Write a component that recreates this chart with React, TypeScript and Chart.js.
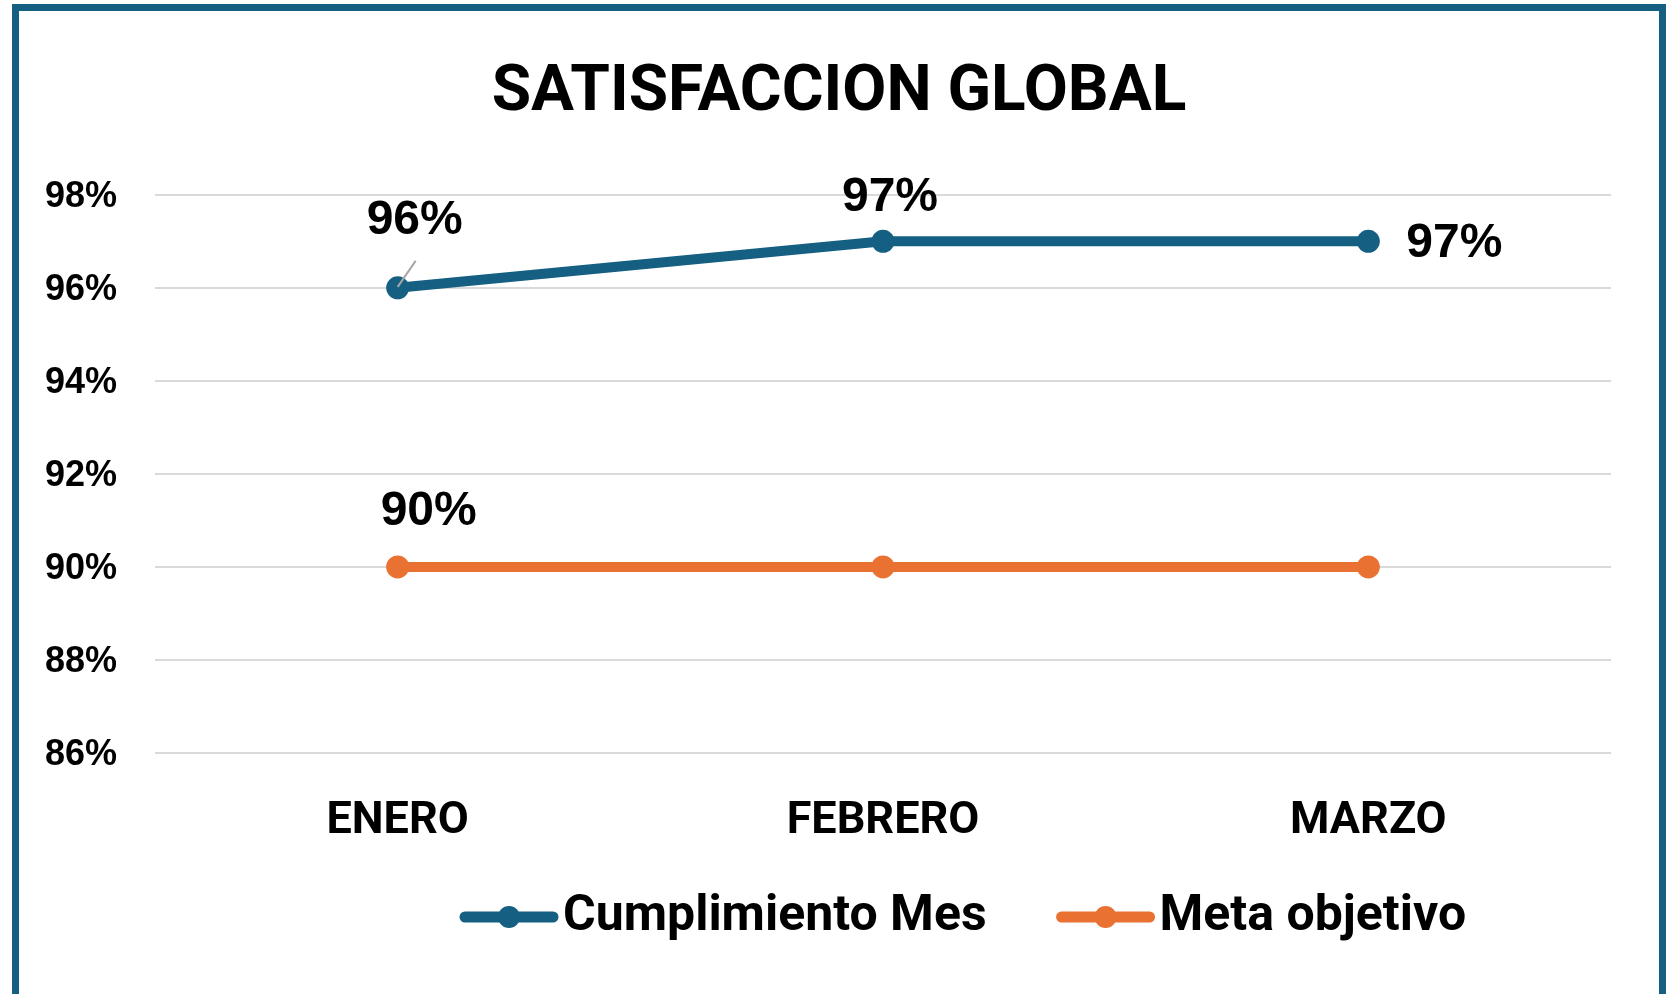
import React, { useEffect, useRef } from "react";
import { Chart, registerables } from "chart.js";

Chart.register(...registerables);

// ---- data ----
const categories = ["ENERO", "FEBRERO", "MARZO"];
const cumplimientoMes = [96, 97, 97];
const metaObjetivo = [90, 90, 90];
const yMin = 86;
const yMax = 98;
const yStep = 2;
const seriesNames = ["Cumplimiento Mes", "Meta objetivo"];
const titleText = "SATISFACCION GLOBAL";

// ---- styles ----
const BLUE = "#156082";
const ORANGE = "#E97132";
const W = 1678;
const H = 994;

// which points carry a value label, and where it sits relative to the point
const labelSpecs = [
  { ds: 0, i: 0, dx: 17, dy: -67, align: "center", leader: [0, -1, 18, -27] },
  { ds: 0, i: 1, dx: 7, dy: -44, align: "center" },
  { ds: 0, i: 2, dx: 38, dy: 2, align: "left" },
  { ds: 1, i: 0, dx: 31, dy: -55, align: "center" },
];

const customPlugin = {
  id: "customLabelsLegend",
  afterDatasetsDraw(chart: any) {
    const ctx = chart.ctx;
    ctx.save();
    labelSpecs.forEach((s: any) => {
      const el = chart.getDatasetMeta(s.ds).data[s.i];
      const v = chart.data.datasets[s.ds].data[s.i];
      if (s.leader) {
        ctx.strokeStyle = "#a6a6a6";
        ctx.lineWidth = 2;
        ctx.beginPath();
        ctx.moveTo(el.x + s.leader[0], el.y + s.leader[1]);
        ctx.lineTo(el.x + s.leader[2], el.y + s.leader[3]);
        ctx.stroke();
      }
      ctx.fillStyle = "#000";
      ctx.font = "bold 48px 'Liberation Sans', Arial, sans-serif";
      ctx.textAlign = s.align;
      ctx.textBaseline = "middle";
      ctx.fillText(v + "%", el.x + s.dx, el.y + s.dy);
    });
    ctx.restore();
  },
  afterDraw(chart: any) {
    const ctx = chart.ctx;
    ctx.save();
    const cy = 917;
    let x = 460;
    const lineLen = 98;
    const colors = [BLUE, ORANGE];
    ctx.font = "bold 50px Roboto, sans-serif";
    ctx.textBaseline = "middle";
    ctx.textAlign = "left";
    chart.data.datasets.forEach((ds: any, k: number) => {
      ctx.strokeStyle = colors[k];
      ctx.lineWidth = 11;
      ctx.lineCap = "round";
      ctx.beginPath();
      ctx.moveTo(x + 5, cy);
      ctx.lineTo(x + lineLen - 5, cy);
      ctx.stroke();
      ctx.fillStyle = colors[k];
      ctx.beginPath();
      ctx.arc(x + lineLen / 2, cy, 11, 0, Math.PI * 2);
      ctx.fill();
      ctx.fillStyle = "#000";
      const tx = x + lineLen + 5;
      ctx.fillText(ds.label, tx, cy);
      x = tx + ctx.measureText(ds.label).width + 70;
    });
    ctx.restore();
  },
};

export default function App() {
  const ref = useRef<HTMLCanvasElement | null>(null);

  useEffect(() => {
    document.body.style.margin = "0";
    document.body.style.background = "#fff";
    if (!ref.current) return;
    const chart = new Chart(ref.current, {
      type: "line",
      data: {
        labels: categories,
        datasets: [
          {
            label: seriesNames[0],
            data: cumplimientoMes,
            borderColor: BLUE,
            backgroundColor: BLUE,
            pointBackgroundColor: BLUE,
            pointBorderWidth: 0,
            pointRadius: 11.5,
            borderWidth: 10,
            tension: 0,
          },
          {
            label: seriesNames[1],
            data: metaObjetivo,
            borderColor: ORANGE,
            backgroundColor: ORANGE,
            pointBackgroundColor: ORANGE,
            pointBorderWidth: 0,
            pointRadius: 11.5,
            borderWidth: 10,
            tension: 0,
          },
        ],
      },
      options: {
        animation: false,
        responsive: false,
        devicePixelRatio: 1,
        layout: { padding: { left: 0, right: 0, top: 0, bottom: 0 } },
        plugins: {
          legend: { display: false },
          tooltip: { enabled: false },
          title: {
            display: true,
            text: titleText,
            color: "#000",
            font: { family: "Roboto", size: 64, weight: "bold", lineHeight: 1.2 },
            padding: { top: 56, bottom: 62 },
          },
        },
        scales: {
          x: {
            offset: true,
            grid: { display: false, drawTicks: false },
            border: { display: false },
            ticks: {
              color: "#000",
              font: { family: "Roboto", size: 45, weight: "bold", lineHeight: 1.2 },
              padding: 42,
              maxRotation: 0,
            },
            afterFit: (s: any) => {
              s.height = 241;
            },
          },
          y: {
            min: yMin,
            max: yMax,
            grid: { color: "#d9d9d9", lineWidth: 2, drawTicks: false },
            border: { display: false },
            ticks: {
              stepSize: yStep,
              color: "#000",
              font: { family: "'Liberation Sans', Arial", size: 36, weight: "bold" },
              padding: 38,
              labelOffset: 2,
              callback: (v: any) => v + "%",
            },
            afterFit: (s: any) => {
              s.width = 155;
            },
          },
          yRight: {
            position: "right",
            min: yMin,
            max: yMax,
            grid: { display: false, drawTicks: false },
            border: { display: false },
            ticks: { display: false },
            afterFit: (s: any) => {
              s.width = 67;
            },
          },
        },
      },
      plugins: [customPlugin],
    });
    return () => chart.destroy();
  }, []);

  return (
    <div style={{ position: "fixed", left: 0, top: 0, width: W, height: H, overflow: "hidden", background: "#fff" }}>
      <div
        style={{
          position: "absolute",
          left: 12,
          top: 4,
          width: 1654,
          height: 1010,
          border: "7px solid " + BLUE,
          boxSizing: "border-box",
          background: "#fff",
        }}
      />
      <canvas ref={ref} width={W} height={H} style={{ position: "absolute", left: 0, top: 0, display: "block" }} />
    </div>
  );
}
